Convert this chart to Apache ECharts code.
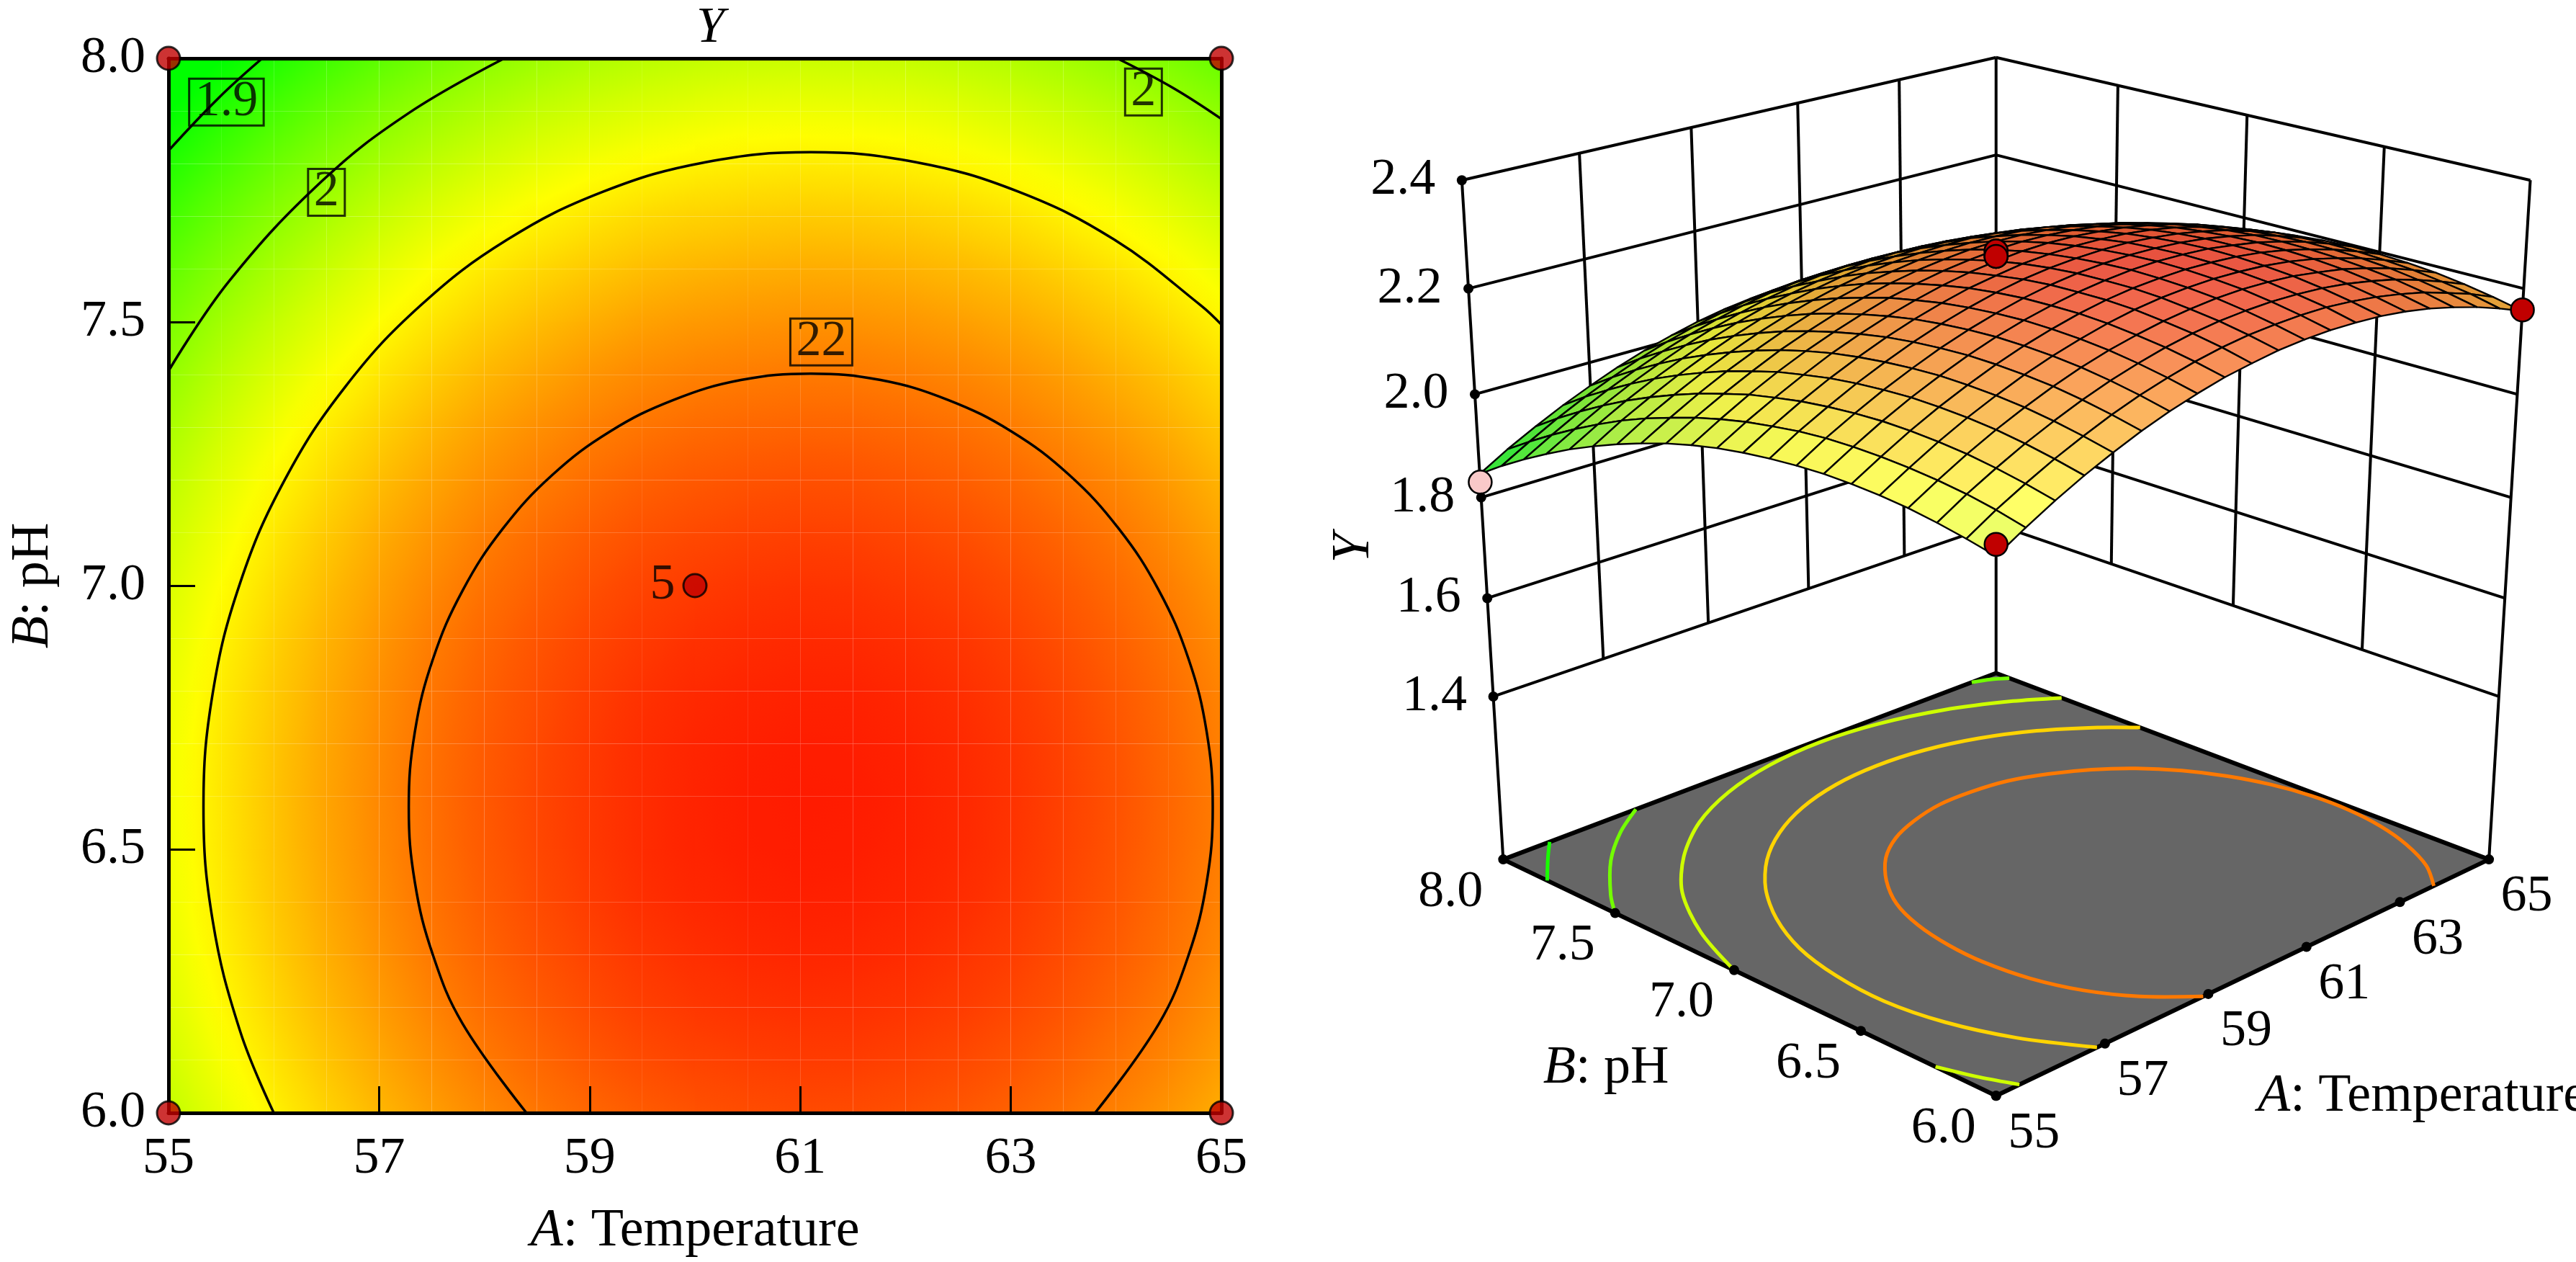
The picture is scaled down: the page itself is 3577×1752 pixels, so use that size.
<!DOCTYPE html>
<html style="height: 100%">
<head>
    <meta charset="UTF-8">
    <script type="text/javascript" src="https://cdn.jsdelivr.net/npm/echarts@6/dist/echarts.min.js"></script>
    <style type="text/css">
        body {margin:0; padding:0; overflow:hidden; height:100%; background:#fff}
    </style>
</head>
<body>
<div id="container" style="width:100%;height:100%"></div>
<script>
    // grid nodes of the response surface (A: Temperature, B: pH)
    var tempA = [55,55.5,56,56.5,57,57.5,58,58.5,59,59.5,60,60.5,61,61.5,62,62.5,63,63.5,64,64.5,65];
    var phB = [6.0,6.1,6.2,6.3,6.4,6.5,6.6,6.7,6.8,6.9,7.0,7.1,7.2,7.3,7.4,7.5,7.6,7.7,7.8,7.9,8.0];
    // Y, one row per pH value, columns follow tempA
    var yGrid = [
        [2.040,2.071,2.100,2.126,2.149,2.170,2.188,2.203,2.216,2.225,2.233,2.237,2.239,2.238,2.235,2.229,2.220,2.208,2.194,2.177,2.158],
        [2.052,2.084,2.112,2.138,2.161,2.182,2.200,2.215,2.228,2.238,2.245,2.249,2.251,2.251,2.247,2.241,2.232,2.221,2.206,2.190,2.170],
        [2.062,2.094,2.122,2.148,2.171,2.192,2.210,2.225,2.238,2.248,2.255,2.259,2.261,2.260,2.257,2.251,2.242,2.231,2.216,2.199,2.180],
        [2.070,2.101,2.130,2.156,2.179,2.200,2.218,2.233,2.245,2.255,2.262,2.267,2.269,2.268,2.265,2.258,2.250,2.238,2.224,2.207,2.188],
        [2.075,2.106,2.135,2.161,2.184,2.205,2.223,2.238,2.251,2.261,2.268,2.272,2.274,2.273,2.270,2.264,2.255,2.243,2.229,2.212,2.193],
        [2.078,2.109,2.138,2.164,2.187,2.208,2.226,2.241,2.254,2.264,2.271,2.275,2.277,2.276,2.273,2.267,2.258,2.246,2.232,2.215,2.196],
        [2.079,2.110,2.139,2.165,2.188,2.209,2.227,2.242,2.254,2.264,2.271,2.276,2.278,2.277,2.274,2.267,2.259,2.247,2.233,2.216,2.197],
        [2.077,2.109,2.137,2.163,2.186,2.207,2.225,2.240,2.253,2.263,2.270,2.274,2.276,2.275,2.272,2.266,2.257,2.246,2.231,2.214,2.195],
        [2.073,2.105,2.133,2.159,2.182,2.203,2.221,2.236,2.249,2.259,2.266,2.270,2.272,2.272,2.268,2.262,2.253,2.242,2.227,2.211,2.191],
        [2.067,2.098,2.127,2.153,2.176,2.197,2.215,2.230,2.243,2.252,2.260,2.264,2.266,2.265,2.262,2.256,2.247,2.235,2.221,2.204,2.185],
        [2.059,2.090,2.118,2.144,2.168,2.188,2.206,2.221,2.234,2.244,2.251,2.256,2.258,2.257,2.253,2.247,2.238,2.227,2.213,2.196,2.176],
        [2.048,2.079,2.108,2.134,2.157,2.177,2.195,2.211,2.223,2.233,2.240,2.245,2.247,2.246,2.242,2.236,2.227,2.216,2.202,2.185,2.165],
        [2.035,2.066,2.094,2.120,2.144,2.164,2.182,2.197,2.210,2.220,2.227,2.232,2.234,2.233,2.229,2.223,2.214,2.203,2.189,2.172,2.152],
        [2.019,2.050,2.079,2.105,2.128,2.149,2.167,2.182,2.195,2.204,2.212,2.216,2.218,2.217,2.214,2.208,2.199,2.187,2.173,2.156,2.137],
        [2.001,2.033,2.061,2.087,2.110,2.131,2.149,2.164,2.177,2.187,2.194,2.198,2.200,2.200,2.196,2.190,2.181,2.170,2.155,2.139,2.119],
        [1.981,2.013,2.041,2.067,2.090,2.111,2.129,2.144,2.157,2.167,2.174,2.178,2.180,2.179,2.176,2.170,2.161,2.150,2.135,2.118,2.099],
        [1.959,1.990,2.019,2.045,2.068,2.089,2.107,2.122,2.134,2.144,2.151,2.156,2.158,2.157,2.154,2.147,2.139,2.127,2.113,2.096,2.077],
        [1.934,1.965,1.994,2.020,2.043,2.064,2.082,2.097,2.110,2.120,2.127,2.131,2.133,2.132,2.129,2.123,2.114,2.102,2.088,2.071,2.052],
        [1.907,1.938,1.967,1.993,2.016,2.037,2.055,2.070,2.083,2.093,2.100,2.104,2.106,2.105,2.102,2.096,2.087,2.075,2.061,2.044,2.025],
        [1.878,1.909,1.938,1.964,1.987,2.008,2.026,2.041,2.053,2.063,2.070,2.075,2.077,2.076,2.073,2.066,2.058,2.046,2.032,2.015,1.996],
        [1.846,1.878,1.906,1.932,1.955,1.976,1.994,2.009,2.022,2.032,2.039,2.043,2.045,2.044,2.041,2.035,2.026,2.014,2.000,1.983,1.964]
    ];
    var tempTicks = [55,57,59,61,63,65];
    var phTicks = [6.0,6.5,7.0,7.5,8.0];
    var yTicks = [1.4,1.6,1.8,2.0,2.2,2.4];

    // design runs [A, B, Y]
    var designPts = [[55,6,2.06],[65,6,2.16],[55,8,1.83],[65,8,1.96],[60,7,2.27],[60,7,2.26],[60,7,2.26],[60,7,2.27],[60,7,2.26]];

    // contour lines on the 2D plot, [A, B]
    var cont19 = [[55.0,7.825],[55.476,7.925],[55.89,8.0]];
    var cont20a = [[55.0,7.407],[55.578,7.578],[56.467,7.769],[57.28,7.896],[58.19,8.0]];
    var cont20b = [[64.01,8.0],[64.54,7.944],[65.0,7.885]];
    var cont21 = [[56.0,6.0],[55.68,6.155],[55.42,6.364],[55.332,6.58],[55.42,6.796],[55.68,7.005],[56.105,7.201],[56.682,7.378],
        [57.392,7.531],[58.216,7.656],[59.127,7.747],[60.099,7.803],[61.1,7.822],[62.101,7.803],[63.073,7.747],[63.984,7.656],
        [64.808,7.531],[65.0,7.495]];
    var cont22 = [[58.4,6.0],[57.794,6.169],[57.512,6.299],[57.34,6.437],[57.282,6.58],[57.34,6.723],[57.512,6.861],[57.794,6.991],
        [58.175,7.108],[58.646,7.21],[59.191,7.292],[59.794,7.352],[60.437,7.39],[61.1,7.402],[61.763,7.39],[62.406,7.352],
        [63.009,7.292],[63.554,7.21],[64.025,7.108],[64.406,6.991],[64.688,6.861],[64.86,6.723],[64.918,6.58],[64.86,6.437],
        [64.688,6.299],[64.406,6.169],[63.8,6.0]];
    // contour label boxes [A, B, text]
    var contLabels = [[55.55,7.917,'1.9'],[56.5,7.746,'2'],[64.26,7.936,'2'],[61.2,7.462,'22']];

    // contours projected on the floor of the 3D view
    var floorLevels = [1.9, 1.975, 1.975, 2.05, 2.05, 2.125, 2.2];
    var fl19 = [[55.0,7.8],[55.476,7.915],[55.85,8.0]];
    var fl1975a = [[55.0,7.5],[55.335,7.6],[56.064,7.775],[56.783,7.905],[57.478,8.0]];
    var fl1975b = [[64.45,8.0],[64.75,7.975],[65.0,7.94]];
    var fl205a = [[55.0,7.0],[55.447,7.24],[56.099,7.47],[56.904,7.65],[57.836,7.797],[58.867,7.901],[59.967,7.964],[61.1,7.986],
        [62.234,7.964],[63.333,7.901],[64.364,7.797],[65.0,7.707]];
    var fl205b = [[55.0,6.22],[55.2,6.1],[55.42,6.0]];
    var fl2125 = [[56.85,6.0],[56.3,6.186],[55.95,6.38],[55.8,6.58],[55.86,6.78],[56.074,6.974],[56.469,7.156],[57.003,7.32],
        [57.662,7.462],[58.426,7.577],[59.271,7.662],[60.172,7.714],[61.1,7.731],[62.028,7.714],[62.929,7.662],[63.774,7.577],
        [64.538,7.462],[65.0,7.368]];
    var fl22 = [[58.9,6.0],[58.3,6.12],[57.9,6.25],[57.65,6.4],[57.55,6.56],[57.58,6.7],[57.72,6.85],[57.98,6.99],
        [58.4,7.12],[58.91,7.23],[59.49,7.31],[60.11,7.36],[60.77,7.39],[61.43,7.39],[62.09,7.37],[62.71,7.32],
        [63.29,7.25],[63.8,7.161],[64.228,7.052],[64.56,6.927],[64.788,6.793],[64.903,6.652],[64.903,6.508],
        [64.788,6.367],[64.56,6.233],[64.2,6.1],[63.75,6.0]];
    var floorPaths = [fl19, fl1975a, fl1975b, fl205a, fl205b, fl2125, fl22];

    var FONT = 'Liberation Serif, Tinos, DejaVu Serif, Noto Serif, serif';
    var dom = document.getElementById('container');
    var myChart = echarts.init(dom);
    var S = dom.clientWidth / 1568;

    function hueRGB(v) {
        var hue = 120 * (2.30 - v) / 0.42;
        hue = Math.max(0, Math.min(120, hue));
        return hue <= 60 ? [255, 255 * hue / 60, 0] : [255 * (120 - hue) / 60, 255, 0];
    }
    function rgbStr(c) {
        return 'rgb(' + c.map(function (x) { return Math.round(Math.max(0, Math.min(255, x))); }).join(',') + ')';
    }
    function colorOf(v) { return rgbStr(hueRGB(v)); }

    // 2D map: every grid cell shaded along its own value gradient
    var cells = [];
    for (var j = 0; j < phB.length - 1; j++) {
        for (var i = 0; i < tempA.length - 1; i++) cells.push([i, j]);
    }
    function renderCell(params, api) {
        var c = cells[params.dataIndex], i = c[0], j = c[1];
        var p0 = api.coord([tempA[i], phB[j]]), p1 = api.coord([tempA[i + 1], phB[j + 1]]);
        var v00 = yGrid[j][i], v10 = yGrid[j][i + 1], v01 = yGrid[j + 1][i], v11 = yGrid[j + 1][i + 1];
        var w = p1[0] - p0[0], h = p1[1] - p0[1];
        var gx = (v10 - v00 + v11 - v01) / 2 / w, gy = (v01 - v00 + v11 - v10) / 2 / h;
        var cx = (p0[0] + p1[0]) / 2, cy = (p0[1] + p1[1]) / 2, vc = (v00 + v10 + v01 + v11) / 4;
        var t = Math.abs(gx * w / 2) + Math.abs(gy * h / 2), g2 = gx * gx + gy * gy;
        var fill = colorOf(vc);
        if (g2 > 1e-16 && t > 1e-6) {
            var stops = [];
            for (var s = 0; s <= 4; s++) stops.push({offset: s / 4, color: colorOf(vc - t + 2 * t * s / 4)});
            fill = new echarts.graphic.LinearGradient(cx - gx / g2 * t, cy - gy / g2 * t, cx + gx / g2 * t, cy + gy / g2 * t, stops, true);
        }
        return {
            type: 'rect',
            shape: {x: Math.min(p0[0], p1[0]), y: Math.min(p0[1], p1[1]), width: Math.abs(w), height: Math.abs(h)},
            style: {fill: fill}
        };
    }

    // 3D view: perspective camera, output in reference units (1568 x 768 page)
    var CAM = {cx: 1215, cy: 523, f: 2295, D: 7.65, s: 0.4226, c: 0.9063, zf: 1.058, k: 1.045};
    function world(a, b, z) {
        var u = (a - tempA[0]) / (tempA[tempA.length - 1] - tempA[0]);
        var w = (b - phB[0]) / (phB[phB.length - 1] - phB[0]);
        return [u - w, u + w - 1, CAM.k * (z - CAM.zf)];
    }
    function proj(a, b, z) {
        var W = world(a, b, z);
        var yc = W[2] * CAM.c + W[1] * CAM.s, zc = CAM.D + W[1] * CAM.c - W[2] * CAM.s;
        return [CAM.cx + CAM.f * W[0] / zc, CAM.cy - CAM.f * yc / zc, zc];
    }
    function P(api, a, b, z) {
        var r = proj(a, b, z);
        return api.coord([r[0], r[1]]);
    }
    var aMin = tempA[0], aMax = tempA[tempA.length - 1], bMin = phB[0], bMax = phB[phB.length - 1];
    var zLow = yTicks[0], zTop = yTicks[yTicks.length - 1];

    var wallSegs = [];
    yTicks.forEach(function (z) {
        wallSegs.push([aMin, bMax, z, aMax, bMax, z]);
        wallSegs.push([aMax, bMax, z, aMax, bMin, z]);
    });
    tempTicks.forEach(function (a) {
        var z0 = (a === aMin || a === aMax) ? CAM.zf : zLow;
        wallSegs.push([a, bMax, z0, a, bMax, zTop]);
    });
    phTicks.forEach(function (b) {
        if (b === bMax) return;
        var z0 = b === bMin ? CAM.zf : zLow;
        wallSegs.push([aMax, b, z0, aMax, b, zTop]);
    });
    function renderWall(params, api) {
        var s = wallSegs[params.dataIndex];
        var p1 = P(api, s[0], s[1], s[2]), p2 = P(api, s[3], s[4], s[5]);
        return {type: 'line', shape: {x1: p1[0], y1: p1[1], x2: p2[0], y2: p2[1]}, style: {stroke: '#000', lineWidth: 4}};
    }
    function renderFloor(params, api) {
        var pts = [[aMin, bMax], [aMin, bMin], [aMax, bMin], [aMax, bMax]].map(function (c) { return P(api, c[0], c[1], CAM.zf); });
        return {type: 'polygon', shape: {points: pts}, style: {fill: '#666666', stroke: '#000', lineWidth: 6, lineJoin: 'round'}};
    }
    function renderFloorCont(params, api) {
        var k = params.dataIndex;
        var pts = floorPaths[k].map(function (c) { return P(api, c[0], c[1], CAM.zf); });
        return {type: 'polyline', shape: {points: pts, smooth: 0.3}, style: {stroke: colorOf(floorLevels[k]), lineWidth: 5, fill: null}};
    }
    var floorTicks = [];
    phTicks.forEach(function (b) { floorTicks.push(['B', b]); });
    tempTicks.forEach(function (a) { floorTicks.push(['A', a]); });
    function renderFloorTick(params, api) {
        var t = floorTicks[params.dataIndex];
        var p = t[0] === 'B' ? P(api, aMin, t[1], CAM.zf) : P(api, t[1], bMin, CAM.zf);
        var off = t[0] === 'B' ? [-32, 20] : [23, 23];
        return {type: 'group', children: [
            {type: 'circle', shape: {cx: p[0], cy: p[1], r: 7}, style: {fill: '#000'}},
            {type: 'text', x: p[0] + off[0] * S, y: p[1] + off[1] * S, style: {
                text: t[0] === 'B' ? t[1].toFixed(1) : String(t[1]), fill: '#000', fontSize: 72, fontFamily: FONT,
                align: 'center', verticalAlign: 'middle'}}
        ]};
    }
    function renderZTick(params, api) {
        var z = yTicks[params.dataIndex];
        var p = P(api, aMin, bMax, z);
        return {type: 'group', children: [
            {type: 'circle', shape: {cx: p[0], cy: p[1], r: 7}, style: {fill: '#000'}},
            {type: 'text', x: p[0] - 16 * S, y: p[1], style: {
                text: z.toFixed(1), fill: '#000', fontSize: 72, fontFamily: FONT, align: 'right', verticalAlign: 'middle'}}
        ]};
    }
    function renderNames(params, api) {
        var pb = P(api, aMin, 7.0, CAM.zf), pa = P(api, 60, bMin, CAM.zf), py = P(api, aMin, bMax, 1.7);
        var base = {fill: '#000', fontSize: 74, fontFamily: FONT, align: 'center', verticalAlign: 'middle'};
        var ital = {fontStyle: 'italic', fontSize: 74, fontFamily: FONT, fill: '#000'};
        return {type: 'group', children: [
            {type: 'text', x: pb[0] - 78 * S, y: pb[1] + 60 * S, style: echarts.util.extend({text: '{i|B}: pH', rich: {i: ital}}, base)},
            {type: 'text', x: pa[0] + 100 * S, y: pa[1] + 77 * S, style: echarts.util.extend({text: '{i|A}: Temperature', rich: {i: ital}}, base)},
            {type: 'text', x: py[0] - 79 * S, y: py[1], rotation: Math.PI / 2, style: echarts.util.extend({text: 'Y', fontStyle: 'italic'}, base)}
        ]};
    }

    // surface cells sorted far to near
    var surfCells = cells.map(function (c) {
        var i = c[0], j = c[1];
        var vc = (yGrid[j][i] + yGrid[j][i + 1] + yGrid[j + 1][i] + yGrid[j + 1][i + 1]) / 4;
        return [i, j, proj((tempA[i] + tempA[i + 1]) / 2, (phB[j] + phB[j + 1]) / 2, vc)[2]];
    }).sort(function (x, y) { return y[2] - x[2]; });
    function renderSurf(params, api) {
        var c = surfCells[params.dataIndex], i = c[0], j = c[1];
        var nodes = [[i, j], [i + 1, j], [i + 1, j + 1], [i, j + 1]];
        var pts = nodes.map(function (n) { return P(api, tempA[n[0]], phB[n[1]], yGrid[n[1]][n[0]]); });
        var wp = nodes.map(function (n) { return world(tempA[n[0]], phB[n[1]], yGrid[n[1]][n[0]]); });
        var e1 = [wp[2][0] - wp[0][0], wp[2][1] - wp[0][1], wp[2][2] - wp[0][2]];
        var e2 = [wp[3][0] - wp[1][0], wp[3][1] - wp[1][1], wp[3][2] - wp[1][2]];
        var n = [e1[1] * e2[2] - e1[2] * e2[1], e1[2] * e2[0] - e1[0] * e2[2], e1[0] * e2[1] - e1[1] * e2[0]];
        if (n[2] < 0) n = n.map(function (x) { return -x; });
        var len = Math.sqrt(n[0] * n[0] + n[1] * n[1] + n[2] * n[2]);
        var lam = Math.max(0, Math.min(1, (-n[1] * CAM.c + n[2] * CAM.s) / len));
        var vc = (yGrid[j][i] + yGrid[j][i + 1] + yGrid[j + 1][i] + yGrid[j + 1][i + 1]) / 4;
        var wh = 0.12 + 0.38 * lam, sh = 0.8 + 0.28 * lam;
        var col = hueRGB(vc).map(function (x) { return (x * (1 - wh) + 255 * wh) * sh; });
        return {type: 'polygon', shape: {points: pts}, style: {fill: rgbStr(col), stroke: '#000', lineWidth: 2.4, lineJoin: 'round'}};
    }

    // design points in 3D: red above the surface, pink below
    var pts3dBack = [], pts3dFront = [];
    designPts.forEach(function (d) {
        var surf = yGrid[phB.indexOf(d[1])][tempA.indexOf(d[0])];
        var item = [d[0], d[1], d[2], d[2] >= surf ? '#c00000' : '#f9c9c9'];
        (proj(d[0], d[1], d[2])[2] > 7.8 ? pts3dBack : pts3dFront).push(item);
    });
    function renderPts(list) {
        return function (params, api) {
            var d = list[params.dataIndex];
            var p = P(api, d[0], d[1], d[2]);
            return {type: 'circle', shape: {cx: p[0], cy: p[1], r: 16}, style: {fill: d[3], stroke: '#000', lineWidth: 2.5}};
        };
    }

    // design points in 2D, replicates merged with a count
    var uniq = {};
    designPts.forEach(function (d) {
        var key = d[0] + '_' + d[1];
        if (!uniq[key]) uniq[key] = [d[0], d[1], 0];
        uniq[key][2]++;
    });
    var pts2d = Object.keys(uniq).map(function (k) { return uniq[k]; });

    function idx(list) { return list.map(function (x, k) { return [k, 0]; }); }
    function custom3d(data, render, z) {
        return {type: 'custom', xAxisIndex: 2, yAxisIndex: 2, data: data, renderItem: render, z: z, silent: true};
    }
    function contourLine(data) {
        return {type: 'line', xAxisIndex: 0, yAxisIndex: 0, data: data, smooth: 0.4, symbol: 'none', clip: false,
            lineStyle: {color: '#000', width: 3.5}, z: 3, silent: true};
    }

    var frameLine = {show: true, onZero: false, lineStyle: {color: '#000', width: 5}};
    var option = {
        animation: false,
        title: {text: 'Y', left: 962, top: 0, textStyle: {fontFamily: FONT, fontStyle: 'italic', fontWeight: 'normal', fontSize: 70, color: '#000'}},
        grid: [
            {left: 234, top: 81, width: 1462, height: 1464},
            {left: 0, top: 0, right: 0, bottom: 0}
        ],
        xAxis: [
            {gridIndex: 0, type: 'value', min: 55, max: 65, interval: 2, position: 'bottom', z: 5,
                axisLine: frameLine,
                axisTick: {inside: true, length: 37, lineStyle: {color: '#000', width: 3}},
                axisLabel: {margin: 28, fontFamily: FONT, fontSize: 72, color: '#000'},
                splitLine: {show: false},
                name: '{i|A}: Temperature', nameLocation: 'middle', nameGap: 128,
                nameTextStyle: {fontFamily: FONT, fontSize: 74, color: '#000',
                    rich: {i: {fontFamily: FONT, fontSize: 74, fontStyle: 'italic', color: '#000'}}}},
            {gridIndex: 0, type: 'value', min: 55, max: 65, position: 'top', z: 5, axisLine: frameLine,
                axisTick: {show: false}, axisLabel: {show: false}, splitLine: {show: false}},
            {gridIndex: 1, type: 'value', min: 0, max: 1568, show: false, splitLine: {show: false}}
        ],
        yAxis: [
            {gridIndex: 0, type: 'value', min: 6, max: 8, interval: 0.5, position: 'left', z: 5,
                axisLine: frameLine,
                axisTick: {inside: true, length: 37, lineStyle: {color: '#000', width: 3}},
                axisLabel: {margin: 32, fontFamily: FONT, fontSize: 72, color: '#000',
                    formatter: function (v) { return v.toFixed(1); }},
                splitLine: {show: false},
                name: '{i|B}: pH', nameLocation: 'middle', nameGap: 150, nameRotate: 90,
                nameTextStyle: {fontFamily: FONT, fontSize: 74, color: '#000',
                    rich: {i: {fontFamily: FONT, fontSize: 74, fontStyle: 'italic', color: '#000'}}}},
            {gridIndex: 0, type: 'value', min: 6, max: 8, position: 'right', z: 5, axisLine: frameLine,
                axisTick: {show: false}, axisLabel: {show: false}, splitLine: {show: false}},
            {gridIndex: 1, type: 'value', min: 0, max: 768, inverse: true, show: false, splitLine: {show: false}}
        ],
        series: [
            {type: 'custom', xAxisIndex: 0, yAxisIndex: 0, data: cells, renderItem: renderCell, z: 1, silent: true},
            contourLine(cont19), contourLine(cont20a), contourLine(cont20b), contourLine(cont21), contourLine(cont22),
            {type: 'scatter', xAxisIndex: 0, yAxisIndex: 0, data: contLabels, symbolSize: 1, clip: false, z: 4, silent: true,
                itemStyle: {color: 'transparent'},
                label: {show: true, position: 'inside', formatter: function (p) { return p.value[2]; },
                    fontFamily: FONT, fontSize: 70, color: '#000', borderColor: '#000', borderWidth: 3,
                    padding: [3, 8, 0, 8], lineHeight: 62}},
            {type: 'scatter', xAxisIndex: 0, yAxisIndex: 0, data: pts2d, symbolSize: 32, clip: false, z: 6, silent: true,
                itemStyle: {color: '#c00000', borderColor: '#000', borderWidth: 3},
                label: {show: true, position: 'left', distance: 10, fontFamily: FONT, fontSize: 70, color: '#000',
                    formatter: function (p) { return p.value[2] > 1 ? String(p.value[2]) : ''; }}},
            custom3d(idx(wallSegs), renderWall, 1),
            custom3d([[0, 0]], renderFloor, 2),
            custom3d(idx(floorPaths), renderFloorCont, 3),
            custom3d(idx(floorTicks), renderFloorTick, 4),
            custom3d(idx(pts3dBack), renderPts(pts3dBack), 5),
            custom3d(idx(surfCells), renderSurf, 6),
            custom3d(idx(pts3dFront), renderPts(pts3dFront), 7),
            custom3d(idx(yTicks), renderZTick, 8),
            custom3d([[0, 0]], renderNames, 8)
        ]
    };
    myChart.setOption(option);
    window.addEventListener('resize', function () { myChart.resize(); });
</script>
</body>
</html>
